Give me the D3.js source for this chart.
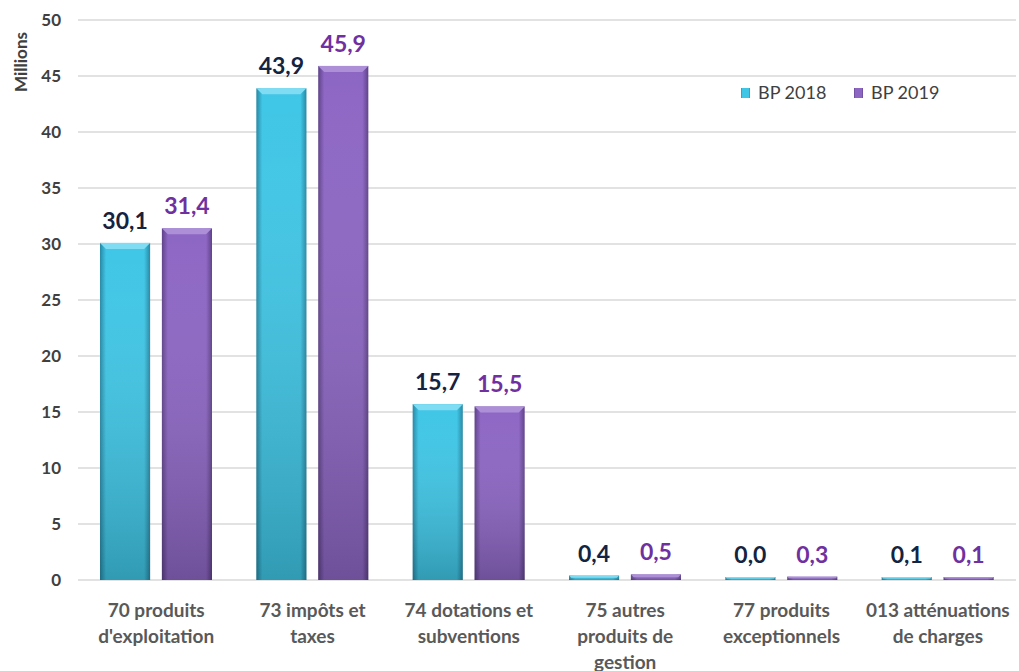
<!DOCTYPE html>
<html>
<head>
<meta charset="utf-8">
<script src="https://cdn.jsdelivr.net/npm/d3@7"></script>
<style>
  body { margin: 0; background: #fff; }
  text { font-family: Lato, "Open Sans", sans-serif; }
</style>
</head>
<body>
<svg id="chart"></svg>
<script>
let width = 1019;
let height = 671;

// data
let categories = [
  ['70 produits', "d'exploitation"],
  ['73 impôts et', 'taxes'],
  ['74 dotations et', 'subventions'],
  ['75 autres', 'produits de', 'gestion'],
  ['77 produits', 'exceptionnels'],
  ['013 atténuations', 'de charges']
];
let series = ['BP 2018', 'BP 2019'];
let values2018 = [30.1, 43.9, 15.7, 0.4, 0.0, 0.1];
let values2019 = [31.4, 45.9, 15.5, 0.5, 0.3, 0.1];
let yTicks = [0, 5, 10, 15, 20, 25, 30, 35, 40, 45, 50];

let colors = {
  'BP 2018': { mid: '#3fc6e6', edge: '#2588a4', cap: '#7fdcf2', label: '#14233f' },
  'BP 2019': { mid: '#8d66c4', edge: '#5e4189', cap: '#ad8fd8', label: '#7030a0' }
};

let svg = d3.select('#chart')
  .attr('width', width)
  .attr('height', height);

let xScale = d3.scaleBand()
  .domain(d3.range(categories.length))
  .range([78, 1016]);

let inner = d3.scaleBand()
  .domain(series)
  .range([22, 134])
  .paddingInner(0.19);

let yScale = d3.scaleLinear()
  .domain([0, 50])
  .range([580, 20]);

// gradients
let defs = svg.append('defs');
series.forEach((s, i) => {
  let g = defs.append('linearGradient')
    .attr('id', 'grad' + i)
    .attr('x1', 0).attr('x2', 1).attr('y1', 0).attr('y2', 0);
  g.append('stop').attr('offset', '0%').attr('stop-color', colors[s].edge);
  g.append('stop').attr('offset', '12%').attr('stop-color', colors[s].mid);
  g.append('stop').attr('offset', '88%').attr('stop-color', colors[s].mid);
  g.append('stop').attr('offset', '100%').attr('stop-color', colors[s].edge);
  let v = defs.append('linearGradient')
    .attr('id', 'shade' + i)
    .attr('x1', 0).attr('x2', 0).attr('y1', 0).attr('y2', 1);
  v.append('stop').attr('offset', '0%').attr('stop-color', '#fff').attr('stop-opacity', 0);
  v.append('stop').attr('offset', '100%').attr('stop-color', '#000').attr('stop-opacity', 0.22);
});

// gridlines
svg.append('g')
  .selectAll('line')
  .data(yTicks)
  .enter()
  .append('line')
  .attr('x1', 78)
  .attr('x2', 1016)
  .attr('y1', d => yScale(d))
  .attr('y2', d => yScale(d))
  .attr('stroke', '#d9d9d9')
  .attr('stroke-width', 1.3);

// y axis
let yAxis = d3.axisLeft(yScale)
  .tickValues(yTicks)
  .tickSize(0)
  .tickPadding(0);

svg.append('g')
  .attr('transform', 'translate(61,0)')
  .call(yAxis)
  .call(g => g.select('.domain').remove())
  .selectAll('text')
  .attr('font-family', 'Lato, sans-serif')
  .attr('font-size', 17)
  .attr('font-weight', 'bold')
  .attr('fill', '#404040');

svg.append('text')
  .attr('transform', 'translate(27,62) rotate(-90)')
  .attr('text-anchor', 'middle')
  .attr('font-size', 17)
  .attr('font-weight', 'bold')
  .attr('fill', '#404040')
  .text('Millions');

// bars
let rows = [];
categories.forEach((c, i) => {
  rows.push({ i: i, s: 'BP 2018', k: 0, v: values2018[i] });
  rows.push({ i: i, s: 'BP 2019', k: 1, v: values2019[i] });
});

let bars = svg.append('g')
  .selectAll('g')
  .data(rows)
  .enter()
  .append('g')
  .attr('transform', d => `translate(${xScale(d.i) + inner(d.s)},0)`);

let bw = inner.bandwidth();
let topOf = d => Math.min(yScale(d.v), yScale(0) - 3);

bars.append('rect')
  .attr('x', 0)
  .attr('y', d => topOf(d))
  .attr('width', bw)
  .attr('height', d => yScale(0) - topOf(d))
  .attr('fill', d => `url(#grad${d.k})`);

bars.append('rect')
  .attr('x', 0)
  .attr('y', d => topOf(d))
  .attr('width', bw)
  .attr('height', d => yScale(0) - topOf(d))
  .attr('fill', d => `url(#shade${d.k})`);

bars.append('path')
  .attr('d', d => {
    let t = topOf(d);
    let b = Math.min(6, (yScale(0) - t) / 2);
    return `M0,${t} L${bw},${t} L${bw - b},${t + b} L${b},${t + b} Z`;
  })
  .attr('fill', d => colors[d.s].cap);

// value labels
bars.append('text')
  .attr('x', bw / 2)
  .attr('y', d => topOf(d) - 14)
  .attr('text-anchor', 'middle')
  .attr('font-size', 23)
  .attr('font-weight', 'bold')
  .attr('fill', d => colors[d.s].label)
  .text(d => d.v.toFixed(1).replace('.', ','));

// category labels
let catText = svg.append('g')
  .selectAll('text')
  .data(categories)
  .enter()
  .append('text')
  .attr('x', (d, i) => xScale(i) + xScale.bandwidth() / 2)
  .attr('y', 617)
  .attr('text-anchor', 'middle')
  .attr('font-size', 19)
  .attr('font-weight', 'bold')
  .attr('fill', '#595959');

catText.selectAll('tspan')
  .data(d => d)
  .enter()
  .append('tspan')
  .attr('x', function () { return d3.select(this.parentNode).attr('x'); })
  .attr('dy', (d, j) => j === 0 ? 0 : 26)
  .text(d => d);

// legend
let legend = svg.append('g')
  .selectAll('g')
  .data(series)
  .enter()
  .append('g')
  .attr('transform', (d, i) => `translate(${741 + i * 113},88)`);

legend.append('rect')
  .attr('width', 9)
  .attr('height', 10)
  .attr('fill', (d, i) => `url(#grad${i})`);

legend.append('text')
  .attr('x', 17)
  .attr('y', 11)
  .attr('font-size', 18)
  .attr('fill', '#404040')
  .text(d => d);
</script>
</body>
</html>
